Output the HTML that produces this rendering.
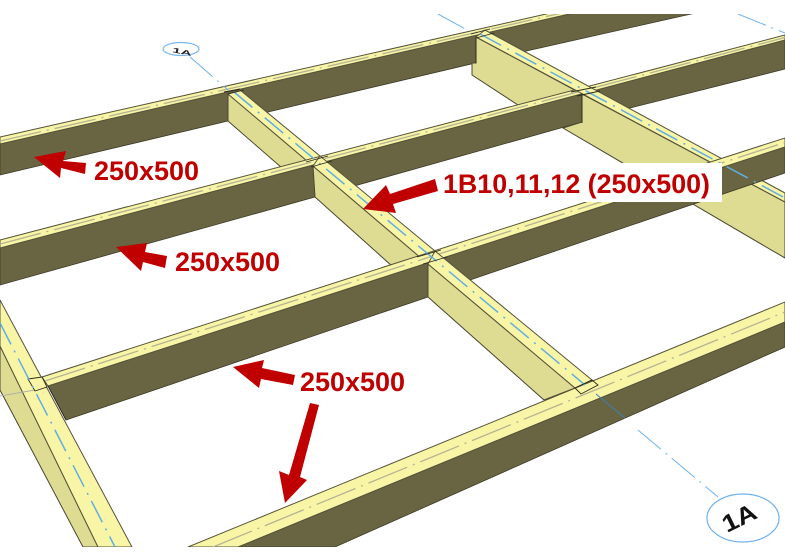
<!DOCTYPE html>
<html>
<head>
<meta charset="utf-8">
<style>
html,body{margin:0;padding:0;background:#fff;width:785px;height:560px;overflow:hidden}
svg{display:block}
.t{fill:#f8f5a6;stroke:#55533a;stroke-width:1}
.d{fill:#696543;stroke:#3c3a26;stroke-width:.8}
.s{fill:#dedb93;stroke:#4a4832;stroke-width:1}
.c{fill:none;stroke:#b5b393;stroke-width:1.3;stroke-dasharray:42 6 2 6}
.b{fill:none;stroke:#62aee0;stroke-width:1.5;stroke-dasharray:24 7 2 7}
.g{fill:none;stroke:#6eb2ee;stroke-width:1;stroke-dasharray:30 6 2 6}
.n{fill:none;stroke:#2c2a1c;stroke-width:.9}
.a{fill:#c00000}
.l{fill:#c00000;font:bold 27px "Liberation Sans",sans-serif}
</style>
</head>
<body>
<svg width="785" height="560" viewBox="0 0 785 560" xmlns="http://www.w3.org/2000/svg">
<defs><clipPath id="k"><rect x="0" y="14" width="785" height="533"/></clipPath></defs>
<rect width="785" height="560" fill="#fff"/>

<g clip-path="url(#k)">
<!-- grid lines on white -->
<line x1="438" y1="14" x2="478" y2="36" class="g"/>
<line x1="738" y1="14" x2="785" y2="33" class="g"/>

<!-- Beam A -->
<polygon class="d" points="0,144 578,12 700,12 522,52 268,112 228,121 0,175"/>
<polygon class="t" points="0,137 555,12 578,12 0,144"/>
<line class="c" x1="0" y1="141" x2="566" y2="12"/>

<!-- Right cross, A to B -->
<polygon class="s" points="476,37 476,63 472,63 472,75 518,105 582,94"/>
<line class="n" x1="476" y1="37" x2="476" y2="63"/>

<!-- Cross 1, segment A-B -->
<polygon class="s" points="228,94 228,121 282,168 313,166"/>
<polygon class="t" points="240,90 228,94 313,166 320,156"/>

<!-- Beam B -->
<polygon class="d" points="0,248 785,40 785,69 630,108 582,122 315,197 0,285"/>
<polygon class="t" points="0,240 785,35 785,40 0,248"/>
<line class="c" x1="0" y1="244" x2="785" y2="37.5"/>

<!-- Right cross, past B -->
<polygon class="s" points="582,94 582,122 563,128 785,258 785,202"/>
<polygon class="t" points="485,30 476,37 785,202 785,193"/>
<line class="n" x1="582" y1="94" x2="582" y2="123"/>

<!-- Cross 1, segment B-C -->
<polygon class="s" points="313,166 315,197 392,266 428,264"/>
<polygon class="t" points="320,156 313,166 428,264 435,251"/>

<!-- Beam C -->
<polygon class="d" points="48,386 785,147 785,173 470,280 428,297 66,420"/>
<polygon class="t" points="42,377 785,138 785,147 48,386"/>
<line class="c" x1="45" y1="381" x2="785" y2="142.5"/>

<!-- Cross 1, segment C-D -->
<polygon class="s" points="428,264 428,297 544,400 575,388"/>
<polygon class="t" points="435,251 428,264 575,388 592,380"/>

<!-- Beam D -->
<polygon class="d" points="238,547 785,322 785,347 335,547"/>
<polygon class="t" points="188,547 785,302 785,322 238,547"/>
<line class="c" x1="213" y1="547" x2="785" y2="312"/>

<!-- Left cross -->
<polygon class="s" points="0,346 98,547 83,547 0,390"/>
<polygon class="t" points="0,300 132,547 98,547 0,346"/>
<line x1="0" y1="396" x2="35" y2="390" stroke="#b0b0a8" stroke-width="1"/>
<polygon points="28,379 42,377 47,387 35,391" fill="#f8f5a6" stroke="#2c2a1c" stroke-width=".9"/>
<line x1="48" y1="386" x2="66" y2="420" class="n"/>

<!-- Blue centre lines -->
<line class="b" x1="234" y1="92" x2="585" y2="385"/>
<line class="b" x1="480" y1="34" x2="785" y2="198"/>
<line class="b" x1="0" y1="323" x2="115" y2="547"/>

<!-- intersection marks -->
<path class="n" d="M224,92 L240,89 M228,94 L244,90"/>
<path class="n" d="M306,162 L328,156 M311,167 L332,161"/>
<path class="n" d="M417,257 L441,250 M423,264 L447,257"/>
<path class="n" d="M571,92 L596,87 M577,96 L600,91"/>
<path class="n" d="M471,34 L490,29 M476,38 L494,33"/>
<path class="n" d="M575,388 L592,380 L598,385 L581,394 Z"/>
</g>

<!-- grid lines outside -->
<line x1="190" y1="57" x2="228" y2="90" class="g"/>
<line x1="596" y1="394" x2="625" y2="418" stroke="#3f7fb0" stroke-width="1"/>
<line x1="638" y1="430" x2="718" y2="497" class="g"/>

<!-- Grid bubbles -->
<ellipse cx="181" cy="49" rx="18" ry="6.5" fill="#fff" stroke="#7ab8ee" stroke-width="1.2"/>
<text transform="translate(172,52) rotate(12) scale(1.4,.62)" font-family="Liberation Sans,sans-serif" font-weight="bold" font-size="11" fill="#222">1A</text>
<ellipse cx="743" cy="518" rx="36" ry="24" fill="#fff" stroke="#6eb2ee" stroke-width="1.2"/>
<text transform="translate(727,533) rotate(-26) scale(1.15,1)" font-family="Liberation Sans,sans-serif" font-size="24" fill="#111" font-weight="bold">1A</text>

<!-- Label box -->
<rect x="438" y="163" width="284" height="39" fill="#fff"/>

<!-- Arrows -->
<polygon class="a" points="34,157 66,151 63,161 86,163 85,174 61,168 60,178"/>
<polygon class="a" points="116,247 147,243 145,252 167,256 165,268 143,262 141,271"/>
<polygon class="a" points="363,209 386,185 390,194 435,179 438,191 393,204 396,213"/>
<polygon class="a" points="233,367 264,360 262,368 295,375 293,385 261,379 259,388"/>
<polygon class="a" points="310,403 319,405 300,477 307,480 285,503 279,471 289,475"/>

<!-- Labels -->
<text class="l" x="94" y="180" textLength="105" lengthAdjust="spacingAndGlyphs">250x500</text>
<text class="l" x="175" y="271" textLength="105" lengthAdjust="spacingAndGlyphs">250x500</text>
<text class="l" x="443" y="193" textLength="267" lengthAdjust="spacingAndGlyphs">1B10,11,12 (250x500)</text>
<text class="l" x="300" y="391" textLength="105" lengthAdjust="spacingAndGlyphs">250x500</text>
</svg>
</body>
</html>
